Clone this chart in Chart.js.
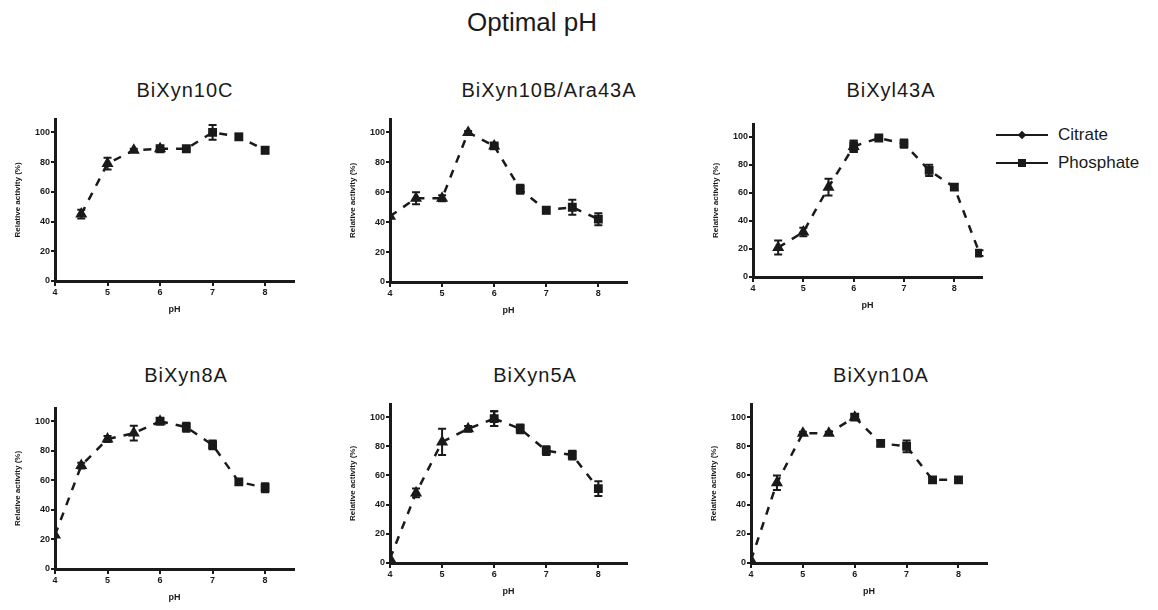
<!DOCTYPE html>
<html>
<head>
<meta charset="utf-8">
<script src="https://cdn.jsdelivr.net/npm/chart.js@4.4.1/dist/chart.umd.min.js"></script>
<style>
  body { margin: 0; width: 1158px; height: 610px; background: #fff; position: relative; overflow: hidden;
         font-family: 'Liberation Sans', Arial, sans-serif; color: #1a1a1a; }
  .main-title { position: absolute; left: 532px; top: 22px; transform: translate(-50%, -50%); font-size: 26px; white-space: nowrap; }
  .panel-title { position: absolute; transform: translate(-50%, -50%); font-size: 20px; letter-spacing: 1px; white-space: nowrap; }
  canvas { position: absolute; }
  .leg-line { position: absolute; height: 2px; background: #1a1a1a; }
  .leg-dia { position: absolute; width: 6px; height: 6px; background: #1a1a1a; transform: rotate(45deg); }
  .leg-sq { position: absolute; width: 8px; height: 8px; background: #1a1a1a; }
  .leg-text { position: absolute; font-size: 17px; transform: translateY(-50%); white-space: nowrap; }
</style>
</head>
<body>
<div class="main-title">Optimal pH</div>

<div class="leg-line" style="left:996px; top:134px; width:52px;"></div>
<div class="leg-dia" style="left:1019px; top:132px;"></div>
<div class="leg-text" style="left:1058px; top:135px;">Citrate</div>
<div class="leg-line" style="left:996px; top:162px; width:52px;"></div>
<div class="leg-sq" style="left:1018px; top:159px;"></div>
<div class="leg-text" style="left:1058px; top:163px;">Phosphate</div>

<script>
// pH steps for each buffer
const citratePH = [4, 4.5, 5, 5.5, 6];
const phosphatePH = [6, 6.5, 7, 7.5, 8];
const phosphatePHXyl43A = [6, 6.5, 7, 7.5, 8, 8.5];

const panelTitles = ['BiXyn10C', 'BiXyn10B/Ara43A', 'BiXyl43A', 'BiXyn8A', 'BiXyn5A', 'BiXyn10A'];

// relative activity (%) and error (+/-)
const xyn10cCitrate = [null, 45, 79, 88, 89];
const xyn10cCitrateErr = [0, 3, 4, 1, 1];
const xyn10cPhosphate = [89, 89, 100, 97, 88];
const xyn10cPhosphateErr = [1, 1, 5, 2, 2];

const xyn10bCitrate = [44, 56, 56, 100, 91];
const xyn10bCitrateErr = [0, 4, 2, 1, 1];
const xyn10bPhosphate = [91, 62, 48, 50, 42];
const xyn10bPhosphateErr = [1, 3, 2, 5, 4];

const xyl43aCitrate = [null, 21, 32, 64, 93];
const xyl43aCitrateErr = [0, 5, 3, 6, 4];
const xyl43aPhosphate = [93, 99, 95, 76, 64, 17];
const xyl43aPhosphateErr = [4, 1, 3, 4, 2, 2];

const xyn8aCitrate = [23, 70, 88, 92, 100];
const xyn8aCitrateErr = [0, 2, 2, 5, 1];
const xyn8aPhosphate = [100, 96, 84, 59, 55];
const xyn8aPhosphateErr = [1, 3, 3, 2, 3];

const xyn5aCitrate = [3, 48, 83, 92, 99];
const xyn5aCitrateErr = [0, 3, 9, 2, 5];
const xyn5aPhosphate = [99, 92, 77, 74, 51];
const xyn5aPhosphateErr = [5, 3, 3, 3, 5];

const xyn10aCitrate = [2, 55, 89, 89, 100];
const xyn10aCitrateErr = [0, 5, 1, 1, 2];
const xyn10aPhosphate = [100, 82, 80, 57, 57];
const xyn10aPhosphateErr = [2, 2, 4, 2, 2];

const yTicks = [0, 20, 40, 60, 80, 100];
const xTicks = [4, 5, 6, 7, 8];

const panels = [
  { cit: xyn10cCitrate, citErr: xyn10cCitrateErr, pho: xyn10cPhosphate, phoErr: xyn10cPhosphateErr, phoPH: phosphatePH },
  { cit: xyn10bCitrate, citErr: xyn10bCitrateErr, pho: xyn10bPhosphate, phoErr: xyn10bPhosphateErr, phoPH: phosphatePH },
  { cit: xyl43aCitrate, citErr: xyl43aCitrateErr, pho: xyl43aPhosphate, phoErr: xyl43aPhosphateErr, phoPH: phosphatePHXyl43A },
  { cit: xyn8aCitrate, citErr: xyn8aCitrateErr, pho: xyn8aPhosphate, phoErr: xyn8aPhosphateErr, phoPH: phosphatePH },
  { cit: xyn5aCitrate, citErr: xyn5aCitrateErr, pho: xyn5aPhosphate, phoErr: xyn5aPhosphateErr, phoPH: phosphatePH },
  { cit: xyn10aCitrate, citErr: xyn10aCitrateErr, pho: xyn10aPhosphate, phoErr: xyn10aPhosphateErr, phoPH: phosphatePH }
];

// plot area boxes in the page: left, top, right, bottom; and title centre
const layout = [
  { l: 55,  t: 118, r: 297, b: 281, tx: 185, ty: 90 },
  { l: 390, t: 118, r: 630, b: 282, tx: 549, ty: 90 },
  { l: 753, t: 123, r: 985, b: 277, tx: 891, ty: 90 },
  { l: 55,  t: 407, r: 297, b: 569, tx: 186, ty: 375 },
  { l: 390, t: 403, r: 630, b: 563, tx: 535, ty: 375 },
  { l: 751, t: 403, r: 990, b: 563, tx: 881, ty: 375 }
];

const INK = '#1a1a1a';
const YSCALE_W = 50, XSCALE_H = 34, PAD_T = 6, PAD_R = 4;

const errorBars = {
  id: 'errorBars',
  afterDatasetsDraw(chart) {
    const { ctx, scales: { x, y } } = chart;
    ctx.save();
    ctx.strokeStyle = INK;
    ctx.lineWidth = 2;
    chart.data.datasets.forEach(ds => {
      ds.data.forEach((p, i) => {
        const e = ds.errors[i];
        if (!e) return;
        const px = x.getPixelForValue(p.x);
        const top = y.getPixelForValue(p.y + e);
        const bot = y.getPixelForValue(p.y - e);
        ctx.beginPath();
        ctx.moveTo(px, top); ctx.lineTo(px, bot);
        ctx.moveTo(px - 4, top); ctx.lineTo(px + 4, top);
        ctx.moveTo(px - 4, bot); ctx.lineTo(px + 4, bot);
        ctx.stroke();
      });
    });
    ctx.restore();
  }
};

function points(ph, vals, errs) {
  const data = [], errors = [];
  vals.forEach((v, i) => {
    if (v === null) return;
    data.push({ x: ph[i], y: v });
    errors.push(errs[i]);
  });
  return { data, errors };
}

panels.forEach((p, i) => {
  const box = layout[i];
  const title = document.createElement('div');
  title.className = 'panel-title';
  title.style.left = box.tx + 'px';
  title.style.top = box.ty + 'px';
  title.textContent = panelTitles[i];
  document.body.appendChild(title);

  const canvas = document.createElement('canvas');
  const left = box.l - YSCALE_W, top = box.t - PAD_T;
  canvas.width = box.r + PAD_R - left;
  canvas.height = box.b + XSCALE_H - top;
  canvas.style.left = left + 'px';
  canvas.style.top = top + 'px';
  document.body.appendChild(canvas);

  const cit = points(citratePH, p.cit, p.citErr);
  const pho = points(p.phoPH, p.pho, p.phoErr);
  const lineStyle = { borderColor: INK, backgroundColor: INK, borderWidth: 2.5, borderDash: [8, 8],
                      pointBackgroundColor: INK, pointBorderColor: INK, tension: 0 };

  new Chart(canvas.getContext('2d'), {
    type: 'line',
    data: {
      datasets: [
        Object.assign({ label: 'Phosphate', data: pho.data, errors: pho.errors,
                        pointStyle: 'rect', pointRadius: 4.5 }, lineStyle),
        Object.assign({ label: 'Citrate', data: cit.data, errors: cit.errors,
                        pointStyle: 'triangle', pointRadius: 4.5 }, lineStyle)
      ]
    },
    options: {
      responsive: false,
      animation: false,
      layout: { padding: { top: PAD_T, right: PAD_R, left: 0, bottom: 0 } },
      plugins: { legend: { display: false }, tooltip: { enabled: false } },
      scales: {
        x: {
          type: 'linear', min: 4, max: 8.55,
          afterBuildTicks: s => { s.ticks = xTicks.map(v => ({ value: v })); },
          afterFit: s => { s.height = XSCALE_H; },
          grid: { drawOnChartArea: false, tickLength: 5, color: INK, lineWidth: 2 },
          border: { color: INK, width: 3 },
          ticks: { color: INK, padding: 1, font: { family: 'Liberation Sans', size: 9, weight: 'bold' } },
          title: { display: true, text: 'pH', color: INK, padding: { top: 2, bottom: 0 },
                   font: { family: 'Liberation Sans', size: 9, weight: 'bold' } }
        },
        y: {
          min: 0, max: 109,
          afterBuildTicks: s => { s.ticks = yTicks.map(v => ({ value: v })); },
          afterFit: s => { s.width = YSCALE_W; },
          grid: { drawOnChartArea: false, tickLength: 4, color: INK, lineWidth: 2 },
          border: { color: INK, width: 3 },
          ticks: { color: INK, padding: 1, font: { family: 'Liberation Sans', size: 9, weight: 'bold' } },
          title: { display: true, text: 'Relative activity (%)', color: INK, padding: { top: 8, bottom: 0 },
                   font: { family: 'Liberation Sans', size: 8, weight: 'bold' } }
        }
      }
    },
    plugins: [errorBars]
  });
});
</script>
</body>
</html>
